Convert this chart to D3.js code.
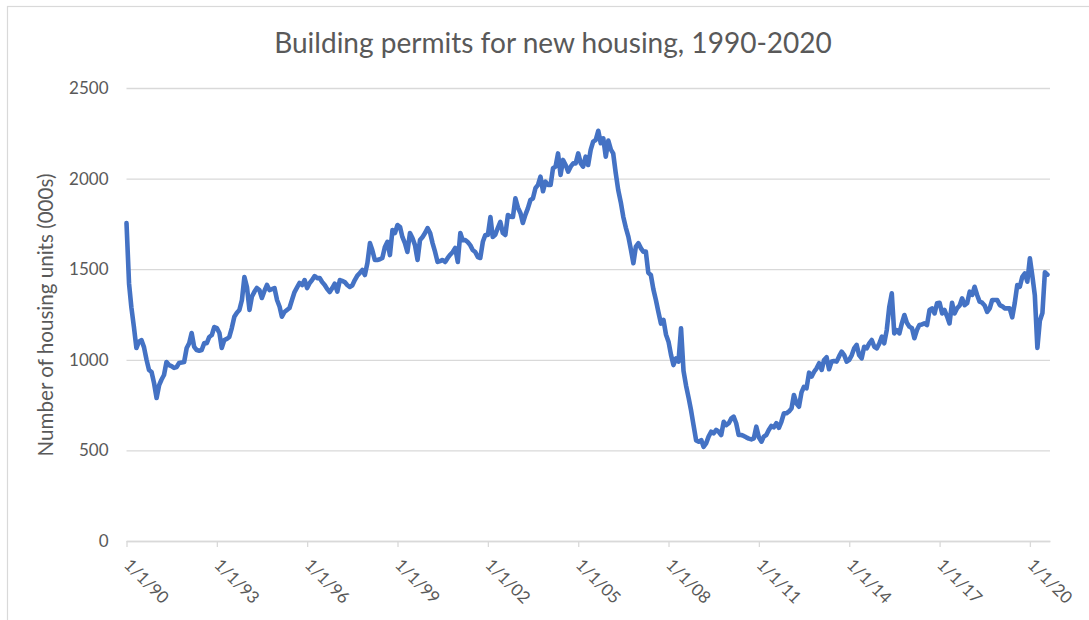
<!DOCTYPE html>
<html>
<head>
<meta charset="utf-8">
<script src="https://cdn.jsdelivr.net/npm/d3@7"></script>
<style>
  body { margin: 0; background: #fff; }
  svg { display: block; }
  text { font-family: Lato, "Open Sans", sans-serif; fill: #595959; }
</style>
</head>
<body>
<svg id="chart" width="1089" height="620"></svg>
<script>
// ---- DATA (monthly, thousands of units, seasonally adjusted annual rate) ----
const titleText = "Building permits for new housing, 1990-2020";
const yAxisTitle = "Number of housing units (000s)";
const startYear = 1990;
const y1990 = [1755,1420,1290,1181,1065,1100,1109,1070,1000,944,933,872];
const y1991 = [789,860,890,916,988,971,965,955,960,982,985,988];
const y1992 = [1065,1092,1148,1071,1054,1050,1054,1092,1092,1126,1137,1181];
const y1993 = [1175,1148,1065,1109,1115,1126,1175,1238,1260,1275,1330,1457];
const y1994 = [1402,1275,1348,1375,1396,1385,1341,1380,1413,1385,1390,1396];
const y1995 = [1330,1293,1238,1264,1275,1286,1330,1374,1400,1424,1413,1440];
const y1996 = [1396,1424,1440,1462,1451,1451,1429,1413,1390,1374,1396,1420];
const y1997 = [1376,1440,1435,1429,1413,1402,1410,1440,1465,1479,1496,1468];
const y1998 = [1534,1644,1606,1551,1551,1555,1562,1623,1651,1578,1716,1700];
const y1999 = [1744,1733,1678,1644,1595,1700,1672,1633,1551,1661,1678,1700];
const y2000 = [1727,1700,1644,1595,1540,1545,1551,1540,1562,1580,1595,1617];
const y2001 = [1540,1700,1660,1661,1650,1633,1606,1595,1567,1562,1651,1689];
const y2002 = [1689,1788,1678,1690,1727,1761,1700,1689,1799,1790,1788,1891];
const y2003 = [1840,1809,1755,1800,1836,1882,1890,1947,1965,2011,1930,1983];
const y2004 = [1965,1965,2057,2066,2139,2020,2103,2075,2038,2066,2084,2084];
const y2005 = [2139,2084,2066,2121,2075,2158,2204,2213,2264,2195,2222,2121];
const y2006 = [2210,2160,2139,2030,1937,1870,1790,1730,1680,1610,1533,1625];
const y2007 = [1643,1615,1597,1597,1480,1468,1390,1330,1262,1200,1220,1140];
const y2008 = [1100,1026,971,1008,990,1174,939,857,790,720,636,555];
const y2009 = [548,557,520,539,576,603,594,613,603,585,658,640];
const y2010 = [650,677,686,650,585,585,580,572,565,561,567,631];
const y2011 = [572,548,576,585,613,635,627,650,625,658,705,705];
const y2012 = [715,732,806,760,741,820,851,843,929,907,934,953];
const y2013 = [981,944,999,1014,948,990,993,990,1020,1045,1026,990];
const y2014 = [1000,1026,1063,1082,1026,1008,1072,1063,1091,1109,1072,1063];
const y2015 = [1090,1128,1091,1164,1290,1367,1146,1164,1146,1201,1247,1205];
const y2016 = [1183,1174,1119,1164,1192,1195,1201,1192,1275,1284,1256,1312];
const y2017 = [1315,1256,1275,1240,1201,1315,1256,1284,1300,1339,1302,1312];
const y2018 = [1376,1358,1403,1358,1321,1315,1300,1265,1284,1330,1330,1330];
const y2019 = [1302,1295,1284,1284,1284,1234,1312,1413,1403,1458,1477,1431];
const y2020 = [1560,1460,1356,1066,1216,1258,1483,1470];
const yTickValues = [0, 500, 1000, 1500, 2000, 2500];
const xTickYears = [1990, 1993, 1996, 1999, 2002, 2005, 2008, 2011, 2014, 2017, 2020];

const values = [].concat(y1990,y1991,y1992,y1993,y1994,y1995,y1996,y1997,y1998,y1999,
  y2000,y2001,y2002,y2003,y2004,y2005,y2006,y2007,y2008,y2009,y2010,y2011,y2012,
  y2013,y2014,y2015,y2016,y2017,y2018,y2019,y2020);
const data = values.map((v, i) => ({ date: new Date(startYear, i, 1), value: v }));

// ---- LAYOUT ----
const svg = d3.select("#chart");
const plotLeft = 126.5, plotRight = 1050, plotTop = 88, plotBottom = 541;

const x = d3.scaleTime()
  .domain([new Date(1990, 0, 1), new Date(2020, 8, 1)])
  .range([plotLeft, plotRight]);
const y = d3.scaleLinear().domain([0, 2500]).range([plotBottom, plotTop]);

// chart frame
svg.append("rect")
  .attr("x", 7.5).attr("y", 6.5)
  .attr("width", 1200).attr("height", 800)
  .attr("fill", "none").attr("stroke", "#d9d9d9").attr("stroke-width", 1.2);

// gridlines
const grid = svg.append("g")
  .attr("transform", `translate(${plotLeft},0)`)
  .call(d3.axisLeft(y).tickValues(yTickValues).tickSize(-(plotRight - plotLeft)).tickFormat(""));
grid.select(".domain").remove();
grid.selectAll("line").attr("stroke", "#d9d9d9").attr("stroke-width", 1.3);

// y labels
const yAx = svg.append("g")
  .attr("transform", `translate(${plotLeft},0)`)
  .call(d3.axisLeft(y).tickValues(yTickValues).tickFormat(d3.format("d")).tickSize(0).tickPadding(18));
yAx.select(".domain").remove();
yAx.selectAll("text").attr("font-size", 17).style("fill", "#595959")
  .style("font-family", "Lato, sans-serif");

// x axis
const fmt = d3.timeFormat("%-m/%-d/%y");
const xAx = svg.append("g")
  .attr("transform", `translate(0,${plotBottom})`)
  .call(d3.axisBottom(x)
    .tickValues(xTickYears.map(yy => new Date(yy, 0, 1)))
    .tickFormat(fmt)
    .tickSizeInner(6).tickSizeOuter(0));
xAx.select(".domain").attr("stroke", "#d9d9d9").attr("stroke-width", 1.3);
xAx.selectAll(".tick line").attr("stroke", "#d9d9d9").attr("stroke-width", 1.3);
xAx.selectAll("text")
  .attr("font-size", 17)
  .style("fill", "#595959").style("font-family", "Lato, sans-serif")
  .attr("text-anchor", "start")
  .attr("x", 0).attr("y", 0).attr("dy", 0)
  .attr("transform", "translate(-4,25) rotate(45)");

// line
const line = d3.line().x(d => x(d.date)).y(d => y(d.value));
svg.append("path")
  .datum(data)
  .attr("d", line)
  .attr("fill", "none")
  .attr("stroke", "#4472C4")
  .attr("stroke-width", 4.6)
  .attr("stroke-linejoin", "round")
  .attr("stroke-linecap", "round");

// title
const title = svg.append("text")
  .attr("x", 553).attr("y", 53)
  .attr("text-anchor", "middle")
  .attr("font-size", 24)
  .text(titleText);
(function fit(t, target) {
  const w = t.node().getComputedTextLength();
  t.attr("font-size", 24 * target / w);
})(title, 558);

// y axis title
const yt = svg.append("text")
  .attr("transform", "translate(53,315) rotate(-90)")
  .attr("text-anchor", "middle")
  .attr("font-size", 17)
  .text(yAxisTitle);
(function fit(t, target) {
  const w = t.node().getComputedTextLength();
  t.attr("font-size", 17 * target / w);
})(yt, 283);
</script>
</body>
</html>
